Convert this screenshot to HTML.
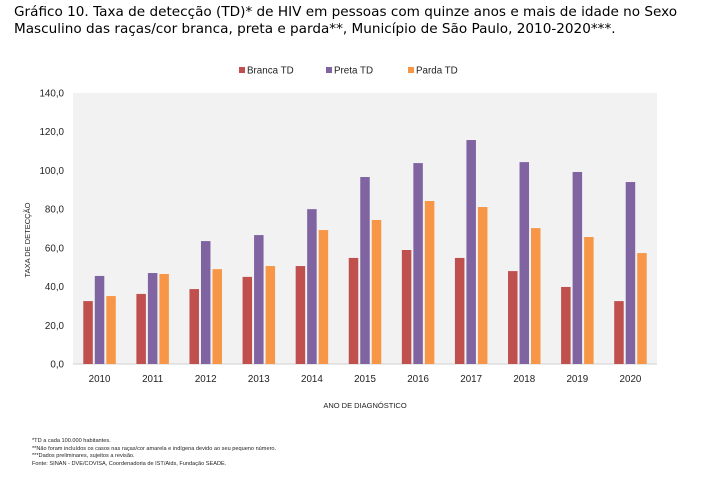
<!DOCTYPE html>
<html><head><meta charset="utf-8"><style>
body{margin:0;background:#fff;width:705px;height:478px;overflow:hidden;font-family:"Liberation Sans",sans-serif}
#title{position:absolute;left:14px;top:4px;font-family:"DejaVu Sans",sans-serif;font-size:13.6px;line-height:17px;color:#000}
#notes{position:absolute;left:32px;top:438px;font-size:5.6px;line-height:7.7px;color:#222}
svg{position:absolute;left:0;top:0}
</style></head><body>
<div id="title">Gráfico 10. Taxa de detecção (TD)* de HIV em pessoas com quinze anos e mais de idade no Sexo<br>Masculino das raças/cor branca, preta e parda**, Município de São Paulo, 2010-2020***.</div>
<svg id="chart" width="705" height="478"></svg>
<div id="notes">*TD a cada 100.000 habitantes.<br>**Não foram incluídos os casos nas raças/cor amarela e indígena devido ao seu pequeno número.<br>***Dados preliminares, sujeitos a revisão.<br>Fonte: SINAN - DVE/COVISA, Coordenadoria de IST/Aids, Fundação SEADE.</div>
<script>
const categories=["2010","2011","2012","2013","2014","2015","2016","2017","2018","2019","2020"];
const branca=[32.5,36.2,38.7,45.0,50.6,54.8,58.9,54.8,48.0,39.8,32.5];
const preta=[45.5,47.0,63.5,66.6,80.0,96.6,103.8,115.7,104.3,99.2,94.0];
const parda=[35.1,46.5,49.0,50.6,69.2,74.4,84.2,81.1,70.2,65.6,57.3];
const yTicks=[0,20,40,60,80,100,120,140];
const seriesNames=["Branca TD","Preta TD","Parda TD"];
const colors=["#c0504d","#8064a2","#f79646"];
const NS="http://www.w3.org/2000/svg";
const svg=document.getElementById('chart');
const px0=73,px1=657,py0=364,py1=93;
const y=v=>py0-(v/140)*(py0-py1);
const gw=(px1-px0)/categories.length;
const x=i=>px0+gw*(i+0.5);
function mk(t,a,p){const e=document.createElementNS(NS,t);for(const k in a)e.setAttribute(k,a[k]);(p||svg).appendChild(e);return e;}
const bg=mk('rect',{x:px0,y:py1,width:px1-px0,height:py0-py1,fill:'#f2f2f2'});


const ax=mk('line',{x1:px0,x2:px1,y1:py0,y2:py0,stroke:'#d0d0d0'});


yTicks.forEach(v=>{const t=mk('text',{x:64,y:y(v)+3.5,'text-anchor':'end','font-size':'9.8',fill:'#222'});t.textContent=v.toFixed(1).replace('.',',');

});
const series=[branca,preta,parda];
const bw=9.5,off=[-11.5,0,11.5];
categories.forEach((c,i)=>{
 series.forEach((s,k)=>{const r=mk('rect',{x:x(i)+off[k]-bw/2,y:y(s[i]),width:bw,height:py0-y(s[i]),fill:colors[k]});
 
 });
 const t=mk('text',{x:x(i),y:382,'text-anchor':'middle','font-size':'9.8',fill:'#222'});t.textContent=c;
 
 
});
const xt=mk('text',{x:365,y:408,'text-anchor':'middle','font-size':'7.5',fill:'#222'});xt.textContent='ANO DE DIAGNÓSTICO';


const yt=mk('text',{x:0,y:0,'text-anchor':'middle','font-size':'7.5',fill:'#222',transform:'translate(30,240) rotate(-90)'});yt.textContent='TAXA DE DETECÇÃO';


const lx=[239,326,408];
seriesNames.forEach((n,k)=>{const g=mk('g',{});


mk('rect',{x:lx[k],y:67,width:6,height:6,fill:colors[k]},g);
const t=mk('text',{x:lx[k]+8,y:73.5,'font-size':'9.8',fill:'#222'},g);t.textContent=n;});
</script>
</body></html>
